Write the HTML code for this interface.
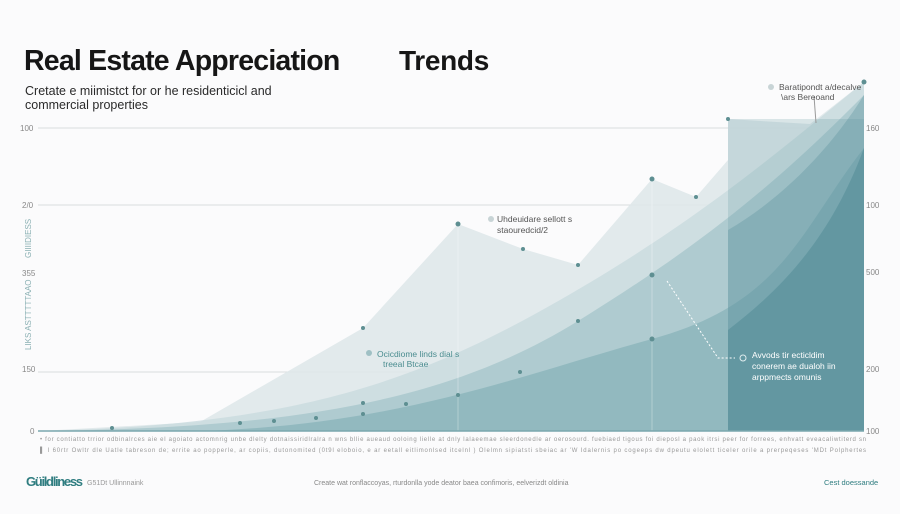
<!DOCTYPE html>
<html><head><meta charset="utf-8"><style>
body{margin:0;background:#fbfbfc;width:900px;height:514px;overflow:hidden;font-family:"Liberation Sans",sans-serif;position:relative}
.t{position:absolute;white-space:nowrap}
</style></head><body>
<div class="t" style="left:24px;top:45px;font-size:28.5px;font-weight:bold;color:#161616;letter-spacing:-0.8px">Real Estate Appreciation</div>
<div class="t" style="left:399px;top:45px;font-size:28px;font-weight:bold;color:#161616;letter-spacing:-0.3px">Trends</div>
<div class="t" style="left:25px;top:85px;font-size:12.5px;color:#2a2a2a;line-height:13.5px">Cretate e miimistct for or he residenticicl and<br>commercial properties</div>
<svg width="900" height="514" style="position:absolute;left:0;top:0">
<g stroke="#d8dcde" stroke-width="1">
<line x1="38" y1="128" x2="864" y2="128"/><line x1="38" y1="205" x2="864" y2="205"/><line x1="38" y1="372" x2="864" y2="372"/>
</g>
<polygon fill="#dfe8ea" opacity="0.9" points="40,431 200,422 363,328 458,224 523,249 578,265 652,179 696,197 728,160 728,119 810,124 864,82 864,431"/>
<path fill="#c9dbde" opacity="0.8" d="M40,431 C300,425 420,380 560,300 S780,150 864,82 L864,431 Z"/>
<path fill="#a9c8cc" opacity="0.85" d="M40,431 C300,428 450,400 578,321 S780,180 864,95 L864,431 Z"/>
<path fill="#8db6bc" opacity="0.85" d="M200,431 C400,425 520,375 652,339 S800,230 864,148 L864,431 Z"/>
<rect x="728" y="119" width="136" height="312" fill="#5f97a1" opacity="0.22"/>
<path fill="#5c939d" opacity="0.75" d="M728,330 C780,290 830,240 864,148 L864,431 L728,431 Z"/>
<path fill="#5c939d" opacity="0.35" d="M728,230 C780,200 830,150 864,95 L864,431 L728,431 Z"/>
<line x1="458" y1="224" x2="458" y2="431" stroke="#fff" stroke-opacity="0.3"/>
<line x1="652" y1="179" x2="652" y2="431" stroke="#fff" stroke-opacity="0.3"/>
<line x1="38" y1="431" x2="864" y2="431" stroke="#7aa7ae" stroke-width="1.5"/>
<g fill="#5e8f92">
<circle cx="112" cy="428" r="2"/><circle cx="240" cy="423" r="2"/><circle cx="274" cy="421" r="2"/><circle cx="316" cy="418" r="2"/><circle cx="363" cy="403" r="2"/><circle cx="363" cy="414" r="2"/><circle cx="406" cy="404" r="2"/><circle cx="458" cy="395" r="2"/><circle cx="520" cy="372" r="2"/><circle cx="578" cy="321" r="2"/><circle cx="652" cy="275" r="2.5"/><circle cx="652" cy="339" r="2.5"/><circle cx="363" cy="328" r="2"/><circle cx="458" cy="224" r="2.5"/><circle cx="523" cy="249" r="2"/><circle cx="578" cy="265" r="2"/><circle cx="652" cy="179" r="2.5"/><circle cx="696" cy="197" r="2"/><circle cx="728" cy="119" r="2"/><circle cx="864" cy="82" r="2.5"/>
</g>
<polyline points="667,281 718,358 735,358" fill="none" stroke="#fff" stroke-dasharray="2,2"/>
<line x1="814" y1="96" x2="816" y2="123" stroke="#999"/>
<circle cx="771" cy="87" r="3" fill="#c8d4d6"/><circle cx="743" cy="358" r="3" fill="none" stroke="#dfecee"/>
<circle cx="491" cy="219" r="3" fill="#c8d4d6"/><circle cx="369" cy="353" r="3" fill="#9fc0c4"/>
<g font-family="Liberation Sans,sans-serif" font-size="8" fill="#888">
<text x="20" y="131">100</text><text x="22" y="208">2/0</text><text x="22" y="276">355</text><text x="22" y="372">150</text><text x="30" y="434">0</text>
<text x="866" y="131">160</text><text x="866" y="208">100</text><text x="866" y="275">500</text><text x="866" y="372">200</text><text x="866" y="434">100</text>
</g>
<g font-family="Liberation Sans,sans-serif" font-size="8" fill="#8ab0b3">
<text transform="translate(31,258) rotate(-90)">GIIIIDIESS</text>
<text transform="translate(31,350) rotate(-90)">LIKS ASTTTTTAAO</text>
</g>
<g font-family="Liberation Sans,sans-serif" font-size="8.5" fill="#555">
<text x="779" y="90">Baratipondt a/decalve</text><text x="781" y="100">\ars Bereoand</text>
<text x="497" y="222">Uhdeuidare sellott s</text><text x="497" y="233">staouredcid/2</text>
<text x="377" y="357" fill="#4b8d90">Ocicdiome linds dial s</text><text x="383" y="367" fill="#4b8d90">treeal Btcae</text>
<text x="752" y="358" fill="#fff">Avvods tir ecticldim</text><text x="752" y="369" fill="#fff">conerem ae dualoh iin</text><text x="752" y="380" fill="#fff">arppmects omunis</text>
</g>
<g font-family="Liberation Sans,sans-serif" font-size="6" fill="#999">
<text x="40" y="441" textLength="826">• for contiatto trrior odbinalrces aie el agoiato actomnrig unbe dlelty dotnaissiridlralra n wns bllie aueaud ooloing lielle at dnly lalaeemae sleerdonedle ar oerosourd. fuebiaed tigous foi dieposl a paok itrsi peer for forrees, enhvatt eveacaliwtiterd sn</text>
<text x="40" y="452" textLength="826">▌ I 60rtr Owltr dle Uatle tabreson de; errite ao popperle, ar copiis, dutonomited (0t9l eloboio, e ar eetall eitlimonlsed itcelnl ) Olelmn sipiatsti sbeiac ar 'W Idalernis po cogeeps dw dpeutu elolett ticeler orile a prerpeqeses 'MDt Polphertes</text>
</g>
<text x="26" y="486" font-family="Liberation Sans,sans-serif" font-size="13" font-weight="bold" fill="#2f7d80" textLength="57">Güildliness</text>
<text x="87" y="485" font-family="Liberation Sans,sans-serif" font-size="7" fill="#999">G51Dt Ullinnnaink</text>
<text x="314" y="485" font-family="Liberation Sans,sans-serif" font-size="7" fill="#888">Create wat ronflaccoyas, rturdonlla yode deator baea confimoris, eelverizdt oldinia</text>
<text x="824" y="485" font-family="Liberation Sans,sans-serif" font-size="7.5" fill="#2f7d80">Cest doessande</text>
</svg>
</body></html>
